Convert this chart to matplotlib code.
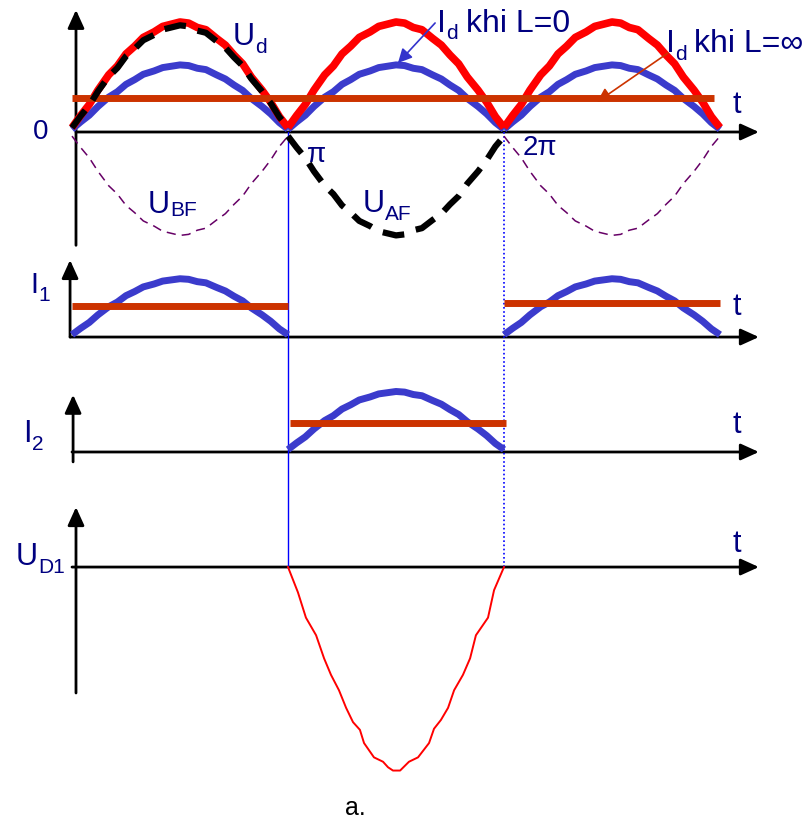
import numpy as np
import matplotlib.pyplot as plt

plt.rcParams['font.family'] = ['Liberation Sans', 'DejaVu Sans']

# one half period, t in units of pi, and the shape of a rectified half-wave
HALF_T = [0.00, 0.04, 0.08, 0.12, 0.17, 0.21, 0.25, 0.29, 0.33, 0.38, 0.42, 0.46, 0.50,
          0.54, 0.58, 0.62, 0.67, 0.71, 0.75, 0.79, 0.83, 0.88, 0.92, 0.96, 1.00]
HALF_SHAPE = [0.04, 0.15, 0.25, 0.38, 0.52, 0.60, 0.71, 0.78, 0.86, 0.91, 0.96, 0.98, 1.00,
              0.99, 0.95, 0.93, 0.85, 0.79, 0.70, 0.62, 0.50, 0.38, 0.27, 0.14, 0.04]

# peak of each half-wave (0..pi, pi..2pi, 2pi..3pi); None = no conduction
UD_AMP = [1.00, 1.00, 1.00]
ID0_AMP = [0.61, 0.61, 0.61]
UAF_AMP = [0.97, -0.94, None]
UBF_AMP = [-0.94, None, -0.94]
I1_AMP = [0.53, None, 0.53]
I1_AVG = [0.28, None, 0.31]
I2_AMP = [None, 0.55, None]
I2_AVG = [None, 0.26, None]
ID_INF = 0.31
ID_INF_END = 2.97

# reverse voltage across D1 while D2 conducts
UD1_T = [1.000, 1.046, 1.083, 1.130, 1.167, 1.199, 1.236, 1.269, 1.301, 1.333, 1.352,
         1.398, 1.440, 1.463, 1.486, 1.519, 1.560, 1.602, 1.653, 1.676, 1.708, 1.741,
         1.769, 1.810, 1.843, 1.870, 1.926, 1.954, 2.000]
UD1_V = [0.00, -0.23, -0.46, -0.62, -0.83, -0.98, -1.12, -1.28, -1.41, -1.48, -1.60,
         -1.73, -1.77, -1.82, -1.85, -1.85, -1.77, -1.73, -1.60, -1.47, -1.39, -1.28,
         -1.12, -0.98, -0.83, -0.62, -0.46, -0.21, 0.00]

# baselines of the four traces
BASE_TOP, BASE_I1, BASE_I2, BASE_UD1 = 0.0, -1.864, -2.909, -3.955

NAVY = '#000080'
RED = '#ff0000'
BLUE = '#3b3bcc'
ORANGE = '#cc3300'

t_half = np.array(HALF_T)
shape = np.array(HALF_SHAPE)

fig = plt.figure(figsize=(8.1, 8.25), dpi=100)
ax = fig.add_axes([0, 0, 1, 1])
ax.set_xlim(-72 / 216, 738 / 216)
ax.set_ylim(-6.3, 1.2)
ax.axis('off')


def half_waves(amps, base, **kw):
    for k, a in enumerate(amps):
        if a is not None:
            ax.plot(k + t_half, base + a * shape, **kw)


def axis_arrow(x0, y0, x1, y1):
    ax.annotate('', xy=(x1, y1), xytext=(x0, y0), zorder=1,
                arrowprops=dict(arrowstyle='-|>,head_length=0.55,head_width=0.25',
                                mutation_scale=20, lw=2, color='black',
                                shrinkA=0, shrinkB=0))


def sub_label(x, y, main, sub, size, sub_size, adv, drop, rest=None, rest_dx=0,
              color=NAVY):
    ax.text(x, y, main, fontsize=size, ha='left', va='baseline', color=color)
    ax.annotate(sub, (x, y), xytext=(adv * size, -drop), textcoords='offset points',
                fontsize=sub_size, ha='left', va='baseline', color=color)
    if rest:
        ax.annotate(rest, (x, y), xytext=(rest_dx, 0), textcoords='offset points',
                    fontsize=size, ha='left', va='baseline', color=color)


# axes with arrow heads
axis_arrow(0.0185, BASE_TOP - 1.03, 0.0185, BASE_TOP + 1.11)
axis_arrow(0.0185, BASE_TOP, 3.18, BASE_TOP)
axis_arrow(-0.009, BASE_I1, -0.009, BASE_I1 + 0.70)
axis_arrow(-0.009, BASE_I1, 3.18, BASE_I1)
axis_arrow(0.005, BASE_I2 - 0.09, 0.005, BASE_I2 + 0.52)
axis_arrow(0.0, BASE_I2, 3.18, BASE_I2)
axis_arrow(0.0185, BASE_UD1 - 1.145, 0.0185, BASE_UD1 + 0.545)
axis_arrow(0.0, BASE_UD1, 3.18, BASE_UD1)

# commutation instants
ax.plot([1.0, 1.0], [BASE_TOP, BASE_UD1], color='#0000ff', lw=1.0, zorder=2)
ax.plot([2.0, 2.0], [BASE_TOP, BASE_UD1], color='#0000ff', lw=1.2,
        linestyle=(0, (1, 1.5)), zorder=2)

# top trace: U_d, I_d, U_AF, U_BF
half_waves(UBF_AMP, BASE_TOP, color='#660066', lw=1.1, dashes=(6, 4), zorder=3)
half_waves(ID0_AMP, BASE_TOP, color=BLUE, lw=5, solid_capstyle='butt', zorder=4)
half_waves(UD_AMP, BASE_TOP, color=RED, lw=5.5, solid_capstyle='butt', zorder=5)
ax.plot([0, ID_INF_END], [BASE_TOP + ID_INF] * 2, color=ORANGE, lw=5,
        solid_capstyle='butt', zorder=6)
half_waves(UAF_AMP, BASE_TOP, color='black', lw=4.5, dashes=(3.5, 2.0), zorder=7)

# diode currents
half_waves(I1_AMP, BASE_I1, color=BLUE, lw=5, solid_capstyle='butt', zorder=4)
for k, lvl in enumerate(I1_AVG):
    if lvl is not None:
        ax.plot([k, k + 1], [BASE_I1 + lvl] * 2, color=ORANGE, lw=5,
                solid_capstyle='butt', zorder=6)
half_waves(I2_AMP, BASE_I2, color=BLUE, lw=5, solid_capstyle='butt', zorder=4)
for k, lvl in enumerate(I2_AVG):
    if lvl is not None:
        ax.plot([k + 0.01, k + 1.01], [BASE_I2 + lvl] * 2, color=ORANGE, lw=5,
                solid_capstyle='butt', zorder=6)

# diode voltage
ax.plot(UD1_T, BASE_UD1 + np.array(UD1_V), color=RED, lw=1.4, zorder=4)

# labels
ax.text(-0.1435, BASE_TOP, '0', fontsize=20, ha='center', va='center', color=NAVY)
ax.text(1.088, BASE_TOP - 0.273, 'π', fontsize=20, ha='left', va='baseline', color=NAVY)
ax.text(2.088, BASE_TOP - 0.209, '2π', fontsize=20, ha='left', va='baseline', color=NAVY)
sub_label(0.745, BASE_TOP + 0.791, 'U', 'd', 22, 15, 0.72, 6)
sub_label(0.352, BASE_TOP - 0.736, 'U', 'BF', 22, 15, 0.72, 2)
sub_label(1.347, BASE_TOP - 0.727, 'U', 'AF', 22, 15, 0.72, 6)
sub_label(1.69, BASE_TOP + 0.909, 'I', 'd', 23, 15, 0.28, 5, 'khi L=0', 20.5)
sub_label(2.75, BASE_TOP + 0.727, 'I', 'd', 23, 15, 0.28, 6, 'khi L=∞', 20.5)
for base, dy in [(BASE_TOP, 0.173), (BASE_I1, 0.20), (BASE_I2, 0.173), (BASE_UD1, 0.136)]:
    ax.text(3.06, base + dy, 't', fontsize=22, ha='left', va='baseline', color=NAVY)
sub_label(-0.194, BASE_I1 + 0.40, 'I', '1', 21, 15, 0.30, 6)
sub_label(-0.227, BASE_I2 + 0.09, 'I', '2', 22, 15, 0.30, 6)
sub_label(-0.259, BASE_UD1 + 0.018, 'U', 'D1', 22, 15, 0.72, 6)
ax.text(1.31, -6.145, 'a.', fontsize=18, ha='center', va='center', color='black')

# pointers to the I_d traces
ax.annotate('', xy=(1.509, 0.627), xytext=(1.681, 0.991), zorder=8,
            arrowprops=dict(arrowstyle='-|>,head_length=0.6,head_width=0.3',
                            mutation_scale=14, lw=1.2, color='#3333cc',
                            shrinkA=0, shrinkB=0))
ax.annotate('', xy=(2.431, 0.273), xytext=(2.759, 0.718), zorder=8,
            arrowprops=dict(arrowstyle='-|>,head_length=0.6,head_width=0.3',
                            mutation_scale=14, lw=1.2, color=ORANGE,
                            shrinkA=0, shrinkB=0))

fig.savefig('out.png', dpi=100)
